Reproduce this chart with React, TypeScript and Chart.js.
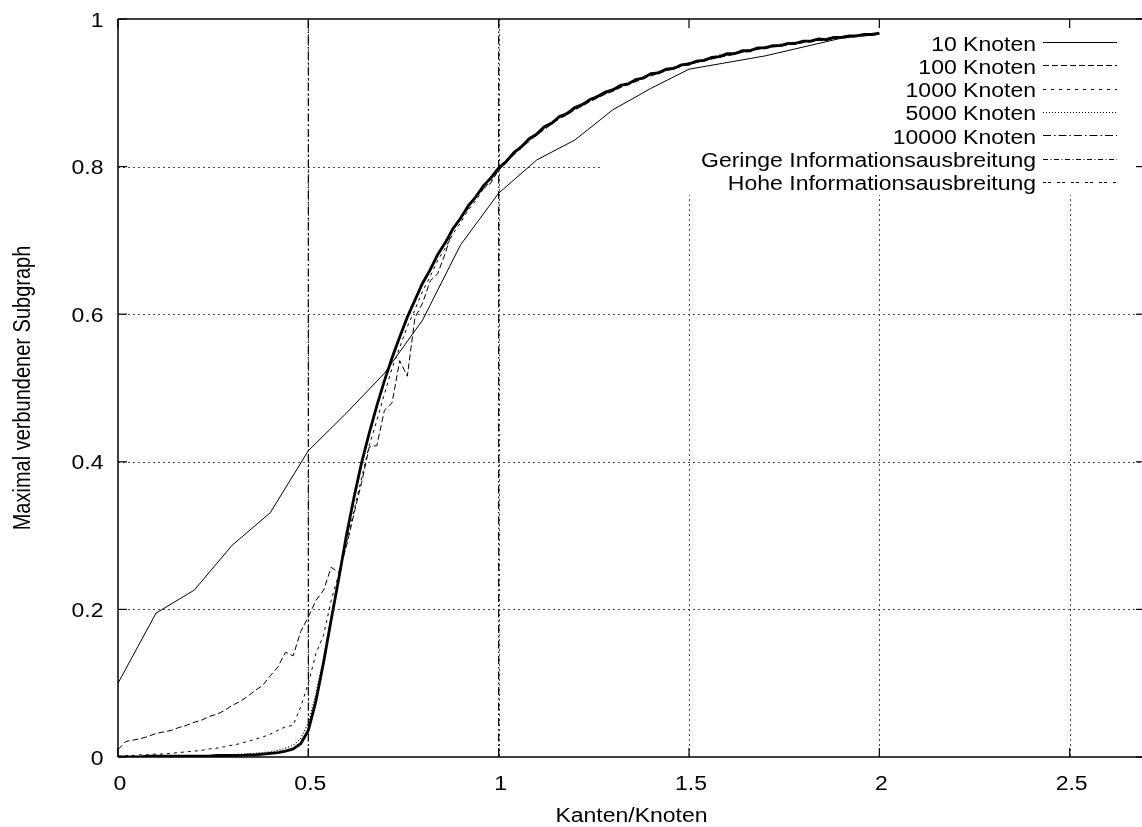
import React, { useEffect, useRef } from "react";
import { Chart, registerables } from "chart.js";

Chart.register(...registerables);

// ---------- data ----------
const X_COARSE = [0, 0.1, 0.2, 0.3, 0.4, 0.5, 0.6, 0.7, 0.8, 0.9, 1.0, 1.1, 1.2, 1.3, 1.4, 1.5, 1.6, 1.7, 1.8, 1.9, 2.0];

const X_FINE = [
  0.00, 0.02, 0.04, 0.06, 0.08, 0.10, 0.12, 0.14, 0.16, 0.18,
  0.20, 0.22, 0.24, 0.26, 0.28, 0.30, 0.32, 0.34, 0.36, 0.38,
  0.40, 0.42, 0.44, 0.46, 0.48, 0.50, 0.52, 0.54, 0.56, 0.58,
  0.60, 0.62, 0.64, 0.66, 0.68, 0.70, 0.72, 0.74, 0.76, 0.78,
  0.80, 0.82, 0.84, 0.86, 0.88, 0.90, 0.92, 0.94, 0.96, 0.98,
  1.00, 1.02, 1.04, 1.06, 1.08, 1.10, 1.12, 1.14, 1.16, 1.18,
  1.20, 1.22, 1.24, 1.26, 1.28, 1.30, 1.32, 1.34, 1.36, 1.38,
  1.40, 1.42, 1.44, 1.46, 1.48, 1.50, 1.52, 1.54, 1.56, 1.58,
  1.60, 1.62, 1.64, 1.66, 1.68, 1.70, 1.72, 1.74, 1.76, 1.78,
  1.80, 1.82, 1.84, 1.86, 1.88, 1.90, 1.92, 1.94, 1.96, 1.98,
  2.00,
];

const K10 = [0.100, 0.195, 0.226, 0.287, 0.331, 0.415, 0.466, 0.520, 0.592, 0.694, 0.764, 0.809, 0.836, 0.877, 0.906, 0.932, 0.941, 0.950, 0.962, 0.974, 0.980];

const K100 = [
  0.010, 0.021, 0.023, 0.025, 0.028, 0.032, 0.034, 0.036, 0.040, 0.043,
  0.047, 0.050, 0.055, 0.058, 0.063, 0.070, 0.075, 0.082, 0.090, 0.097,
  0.110, 0.122, 0.142, 0.137, 0.170, 0.190, 0.212, 0.226, 0.257, 0.250,
  0.285, 0.330, 0.372, 0.420, 0.422, 0.470, 0.480, 0.537, 0.516, 0.595,
  0.615, 0.645, 0.655, 0.683, 0.716, 0.730, 0.743, 0.760, 0.770, 0.778,
  0.796, 0.806, 0.816, 0.826, 0.834, 0.843, 0.850, 0.858, 0.865, 0.870,
  0.877, 0.882, 0.888, 0.893, 0.898, 0.902, 0.907, 0.911, 0.915, 0.919,
  0.923, 0.926, 0.930, 0.932, 0.936, 0.938, 0.941, 0.943, 0.946, 0.948,
  0.950, 0.952, 0.955, 0.956, 0.959, 0.960, 0.962, 0.963, 0.965, 0.966,
  0.968, 0.969, 0.971, 0.971, 0.973, 0.974, 0.975, 0.976, 0.977, 0.978,
  0.979,
];

const K1000 = [
  0.001, 0.002, 0.002, 0.003, 0.003, 0.004, 0.004, 0.005, 0.006, 0.007,
  0.008, 0.009, 0.011, 0.012, 0.014, 0.016, 0.018, 0.021, 0.024, 0.027,
  0.031, 0.036, 0.041, 0.043, 0.068, 0.100, 0.140, 0.165, 0.212, 0.248,
  0.290, 0.334, 0.378, 0.422, 0.456, 0.492, 0.527, 0.555, 0.583, 0.606,
  0.631, 0.651, 0.673, 0.690, 0.709, 0.724, 0.741, 0.754, 0.770, 0.781,
  0.795, 0.805, 0.817, 0.825, 0.836, 0.842, 0.852, 0.858, 0.866, 0.871,
  0.878, 0.883, 0.889, 0.894, 0.899, 0.903, 0.908, 0.912, 0.916, 0.920,
  0.924, 0.927, 0.931, 0.933, 0.937, 0.939, 0.942, 0.944, 0.947, 0.949,
  0.951, 0.953, 0.956, 0.957, 0.960, 0.961, 0.963, 0.964, 0.966, 0.967,
  0.969, 0.970, 0.972, 0.972, 0.974, 0.975, 0.976, 0.977, 0.978, 0.979,
  0.980,
];

const K5000 = [
  0.000, 0.000, 0.001, 0.001, 0.001, 0.001, 0.001, 0.001, 0.002, 0.002,
  0.002, 0.002, 0.002, 0.003, 0.003, 0.003, 0.004, 0.004, 0.005, 0.006,
  0.007, 0.009, 0.012, 0.016, 0.025, 0.046, 0.086, 0.134, 0.188, 0.240,
  0.297, 0.350, 0.396, 0.437, 0.474, 0.509, 0.539, 0.568, 0.594, 0.618,
  0.640, 0.662, 0.679, 0.699, 0.714, 0.732, 0.745, 0.761, 0.772, 0.786,
  0.796, 0.809, 0.817, 0.829, 0.836, 0.846, 0.852, 0.861, 0.866, 0.874,
  0.878, 0.886, 0.889, 0.897, 0.899, 0.906, 0.908, 0.914, 0.916, 0.922,
  0.924, 0.929, 0.930, 0.935, 0.936, 0.941, 0.941, 0.946, 0.946, 0.951,
  0.951, 0.955, 0.955, 0.959, 0.959, 0.963, 0.962, 0.966, 0.965, 0.969,
  0.968, 0.971, 0.971, 0.974, 0.973, 0.976, 0.976, 0.978, 0.978, 0.980,
  0.980,
];

const K10000 = [
  0.000, 0.000, 0.000, 0.000, 0.001, 0.001, 0.001, 0.001, 0.001, 0.001,
  0.001, 0.001, 0.001, 0.002, 0.002, 0.002, 0.002, 0.003, 0.003, 0.004,
  0.005, 0.006, 0.008, 0.011, 0.018, 0.036, 0.076, 0.128, 0.186, 0.242,
  0.300, 0.352, 0.399, 0.439, 0.476, 0.510, 0.541, 0.569, 0.596, 0.619,
  0.642, 0.660, 0.681, 0.697, 0.716, 0.730, 0.747, 0.759, 0.774, 0.785,
  0.798, 0.807, 0.819, 0.827, 0.838, 0.844, 0.854, 0.859, 0.868, 0.872,
  0.880, 0.884, 0.891, 0.895, 0.901, 0.904, 0.910, 0.912, 0.918, 0.920,
  0.926, 0.927, 0.932, 0.933, 0.938, 0.939, 0.943, 0.944, 0.948, 0.949,
  0.953, 0.953, 0.957, 0.957, 0.961, 0.961, 0.964, 0.964, 0.967, 0.967,
  0.970, 0.970, 0.973, 0.972, 0.975, 0.975, 0.977, 0.977, 0.979, 0.979,
  0.981,
];

const GERINGE_X = [0.5, 0.5];
const GERINGE_Y = [0, 1];
const HOHE_X = [1.0, 1.0];
const HOHE_Y = [0, 1];

const SERIES_NAMES = [
  "10 Knoten",
  "100 Knoten",
  "1000 Knoten",
  "5000 Knoten",
  "10000 Knoten",
  "Geringe Informationsausbreitung",
  "Hohe Informationsausbreitung",
];

const X_TICKS = [0, 0.5, 1, 1.5, 2, 2.5];
const X_TICK_LABELS = ["0", "0.5", "1", "1.5", "2", "2.5"];
const Y_TICKS = [0, 0.2, 0.4, 0.6, 0.8, 1];
const Y_TICK_LABELS = ["0", "0.2", "0.4", "0.6", "0.8", "1"];
const X_TITLE = "Kanten/Knoten";
const Y_TITLE = "Maximal verbundener Subgraph";

// ---------- styles ----------
const PLOT_DASH: number[][] = [[], [6, 3], [3, 4], [1, 2], [], [8, 3, 1.5, 3], [8, 3, 1.5, 3]];
const PLOT_WIDTH = [1, 1, 1, 1.2, 2.8, 1.2, 1.2];
const KEY_DASH: number[][] = [[], [6, 3], [3, 5], [1, 2], [8, 3, 1.5, 3], [5, 2.5, 1, 2.5], [3, 2, 3, 6]];

const FONT = '20px "Liberation Sans", Arial, Helvetica, sans-serif';
const SX = 1.15;

function pts(xs: number[], ys: number[]) {
  return xs.map((x, i) => ({ x, y: ys[i] }));
}

function text(ctx: CanvasRenderingContext2D, s: string, x: number, y: number, align: CanvasTextAlign) {
  ctx.save();
  ctx.translate(x, y);
  ctx.scale(SX, 1);
  ctx.font = FONT;
  ctx.fillStyle = "#000";
  ctx.textAlign = align;
  ctx.textBaseline = "alphabetic";
  ctx.fillText(s, 0, 0);
  ctx.restore();
}

function seg(ctx: CanvasRenderingContext2D, x1: number, y1: number, x2: number, y2: number) {
  ctx.beginPath();
  ctx.moveTo(x1, y1);
  ctx.lineTo(x2, y2);
  ctx.stroke();
}

const gnuplotFrame = {
  id: "gnuplotFrame",
  beforeDatasetsDraw(chart: any) {
    const { ctx, chartArea: a, scales } = chart;
    const xs = scales.x;
    const ys = scales.y;
    ctx.save();
    ctx.beginPath();
    ctx.rect(a.left, a.top, a.right - a.left, a.bottom - a.top);
    ctx.clip();
    ctx.strokeStyle = "#4a4a4a";
    ctx.lineWidth = 1;
    ctx.setLineDash([2, 3]);
    X_TICKS.forEach((v) => {
      if (v === 0) return;
      const px = Math.round(xs.getPixelForValue(v)) + 0.5;
      seg(ctx, px, a.top, px, a.bottom);
    });
    Y_TICKS.forEach((v) => {
      if (v === 0 || v === 1) return;
      const py = Math.round(ys.getPixelForValue(v)) + 0.5;
      seg(ctx, a.left, py, a.right, py);
    });
    ctx.setLineDash([]);
    // key area blanks the grid
    ctx.fillStyle = "#fff";
    ctx.fillRect(a.right - 542, a.top, 542, 176);
    ctx.restore();
  },
  afterDatasetsDraw(chart: any) {
    const { ctx, chartArea: a, scales } = chart;
    const xs = scales.x;
    const ys = scales.y;
    ctx.save();
    ctx.strokeStyle = "#000";
    ctx.setLineDash([]);
    ctx.lineWidth = 1.5;
    // border: left, bottom, top
    seg(ctx, a.left, a.top, a.left, a.bottom);
    seg(ctx, a.left, a.bottom, a.right, a.bottom);
    seg(ctx, a.left, a.top, a.right, a.top);
    // inward ticks
    ctx.lineWidth = 1.2;
    X_TICKS.forEach((v) => {
      const px = xs.getPixelForValue(v);
      seg(ctx, px, a.bottom, px, a.bottom - 9);
      seg(ctx, px, a.top, px, a.top + 9);
    });
    Y_TICKS.forEach((v) => {
      const py = ys.getPixelForValue(v);
      seg(ctx, a.left, py, a.left + 9, py);
      seg(ctx, a.right + 3, py, a.right - 6, py);
    });
    // tick labels
    X_TICKS.forEach((v, i) => {
      text(ctx, X_TICK_LABELS[i], xs.getPixelForValue(v) + 2, a.bottom + 33, "center");
    });
    Y_TICKS.forEach((v, i) => {
      text(ctx, Y_TICK_LABELS[i], a.left - 14.5, ys.getPixelForValue(v) + 7.5, "right");
    });
    // axis titles
    text(ctx, X_TITLE, (a.left + a.right + 3) / 2, a.bottom + 65, "center");
    ctx.save();
    ctx.translate(30, (a.top + a.bottom) / 2);
    ctx.rotate(-Math.PI / 2);
    ctx.scale(1, SX);
    ctx.font = FONT;
    ctx.fillStyle = "#000";
    ctx.textAlign = "center";
    ctx.textBaseline = "alphabetic";
    ctx.fillText(Y_TITLE, 0, 0);
    ctx.restore();
    // key
    SERIES_NAMES.forEach((name, i) => {
      const cy = a.top + 24 + i * 23.3;
      text(ctx, name, 1036, cy + 7.5, "right");
      ctx.lineWidth = 1;
      ctx.setLineDash(KEY_DASH[i]);
      seg(ctx, 1043, Math.round(cy) - 0.5, 1117, Math.round(cy) - 0.5);
    });
    ctx.restore();
  },
};

export default function App() {
  const ref = useRef<HTMLCanvasElement>(null);
  useEffect(() => {
    const seriesX = [X_COARSE, X_FINE, X_FINE, X_FINE, X_FINE, GERINGE_X, HOHE_X];
    const seriesY = [K10, K100, K1000, K5000, K10000, GERINGE_Y, HOHE_Y];
    const datasets = SERIES_NAMES.map((name, i) => ({
      label: name,
      data: pts(seriesX[i], seriesY[i]),
      borderColor: "#000",
      backgroundColor: "#000",
      borderWidth: PLOT_WIDTH[i],
      borderDash: PLOT_DASH[i],
      pointRadius: 0,
      fill: false,
      tension: 0,
      showLine: true,
    }));
    const chart = new Chart(ref.current as HTMLCanvasElement, {
      type: "line",
      data: { datasets },
      options: {
        responsive: false,
        animation: false,
        events: [],
        layout: { padding: { left: 118, top: 19, right: 0, bottom: 70 } },
        scales: {
          x: { type: "linear", display: false, min: 0, max: 2.69 },
          y: { type: "linear", display: false, min: 0, max: 1 },
        },
        plugins: {
          legend: { display: false },
          tooltip: { enabled: false },
        },
      },
      plugins: [gnuplotFrame],
    } as any);
    return () => chart.destroy();
  }, []);
  return (
    <canvas
      ref={ref}
      width={1142}
      height={827}
      style={{ position: "absolute", left: 0, top: 0, display: "block" }}
    />
  );
}
